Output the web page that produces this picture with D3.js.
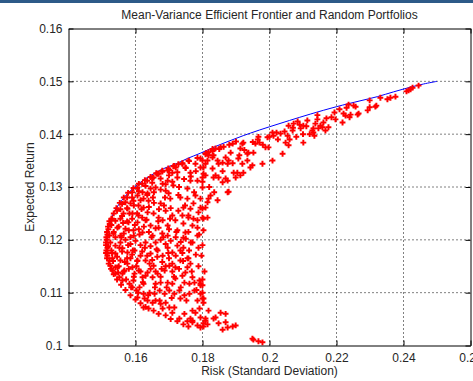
<!DOCTYPE html>
<html>
<head>
<meta charset="utf-8">
<script src="https://cdn.jsdelivr.net/npm/d3@7"></script>
<style>
  html, body { margin: 0; padding: 0; background: #fff; overflow: hidden; }
  text { font-family: "Liberation Sans", Arial, sans-serif; }
</style>
</head>
<body>
<svg id="chart" width="473" height="381"></svg>
<script>
// axis ticks
const xTicks = [0.16, 0.18, 0.2, 0.22, 0.24, 0.26];
const yTicks = [0.1, 0.11, 0.12, 0.13, 0.14, 0.15, 0.16];

// efficient frontier [risk, return]
const frontier = [
  [0.1514, 0.1185], [0.1518, 0.1215], [0.1528, 0.1242], [0.1543, 0.1260], [0.1558, 0.1274],
  [0.1577, 0.1288], [0.1596, 0.1299], [0.1621, 0.1312], [0.1646, 0.1322], [0.1671, 0.1331],
  [0.1696, 0.1338], [0.1725, 0.1345], [0.1755, 0.1354], [0.1794, 0.1364], [0.1840, 0.1377],
  [0.1900, 0.1392], [0.1943, 0.1402], [0.2000, 0.1414], [0.2060, 0.1426], [0.2122, 0.1438],
  [0.2200, 0.1452], [0.2270, 0.1463], [0.2322, 0.1471], [0.2370, 0.1480], [0.2421, 0.1489],
  [0.2460, 0.1495], [0.2500, 0.1500]
];

// random portfolios lying on the frontier's lower part
const frontierEdge = [
  [0.1512, 0.1190], [0.1514, 0.1200], [0.1516, 0.1210], [0.1519, 0.1220], [0.1523, 0.1230],
  [0.1528, 0.1240], [0.1535, 0.1250], [0.1543, 0.1260], [0.1553, 0.1270], [0.1565, 0.1280],
  [0.1578, 0.1289], [0.1594, 0.1298], [0.1610, 0.1306], [0.1628, 0.1313], [0.1645, 0.1319],
  [0.1662, 0.1326], [0.1680, 0.1331], [0.1698, 0.1335], [0.1715, 0.1340], [0.1513, 0.1180],
  [0.1516, 0.1170]
];

// random portfolios, upper arm (right part)
const upperRight = [
  [0.2445, 0.1492], [0.2427, 0.1488], [0.2415, 0.1483], [0.2409, 0.1481], [0.2421, 0.1485],
  [0.2376, 0.1471], [0.2361, 0.1469], [0.2352, 0.1466], [0.2331, 0.1469], [0.2319, 0.1454],
  [0.2316, 0.1452], [0.2299, 0.1464], [0.2299, 0.1451], [0.2293, 0.1445], [0.2266, 0.1439],
  [0.2263, 0.1437], [0.2257, 0.1452], [0.2251, 0.1454], [0.2236, 0.1456], [0.2230, 0.1450],
  [0.2221, 0.1439], [0.2242, 0.1437], [0.2227, 0.1435], [0.2239, 0.1432], [0.2218, 0.1422],
  [0.2209, 0.1447], [0.2194, 0.1441], [0.2197, 0.1428], [0.2185, 0.1432], [0.2170, 0.1430],
  [0.2176, 0.1413], [0.2161, 0.1422], [0.2158, 0.1413], [0.2152, 0.1416], [0.2143, 0.1436],
  [0.2143, 0.1428], [0.2137, 0.1420], [0.2131, 0.1411], [0.2131, 0.1403], [0.2134, 0.1397],
  [0.2128, 0.1407], [0.2167, 0.1407], [0.2146, 0.1411]
];

// random portfolios, upper arm (middle part)
const upperMid = [
  [0.2113, 0.1426], [0.2101, 0.1416], [0.2093, 0.1411], [0.2084, 0.1424], [0.2072, 0.1420],
  [0.2069, 0.1407], [0.2057, 0.1416], [0.2054, 0.1397], [0.2057, 0.1379], [0.2048, 0.1384],
  [0.2101, 0.1384], [0.2039, 0.1363], [0.2033, 0.1401], [0.2021, 0.1403], [0.2012, 0.1397],
  [0.2009, 0.1403], [0.1994, 0.1394], [0.1988, 0.1375], [0.1997, 0.1375], [0.2009, 0.1350],
  [0.1979, 0.1344], [0.1967, 0.1395], [0.1970, 0.1384], [0.1952, 0.1365], [0.1958, 0.1382],
  [0.1949, 0.1341], [0.1943, 0.1337], [0.1934, 0.1350], [0.1937, 0.1365], [0.1922, 0.1384],
  [0.1919, 0.1382], [0.1913, 0.1373], [0.1907, 0.1354], [0.1934, 0.1363], [0.1919, 0.1344],
  [0.1904, 0.1327], [0.1913, 0.1322], [0.1922, 0.1327], [0.1893, 0.1327], [0.1899, 0.1318],
  [0.1890, 0.1382], [0.1884, 0.1365], [0.1878, 0.1350], [0.1875, 0.1344], [0.1869, 0.1356],
  [0.1863, 0.1376], [0.1854, 0.1375], [0.1869, 0.1316], [0.1875, 0.1312], [0.1848, 0.1318],
  [0.1839, 0.1322], [0.1833, 0.1318], [0.1848, 0.1344], [0.1845, 0.1350], [0.1860, 0.1346],
  [0.1833, 0.1360], [0.1830, 0.1356], [0.1818, 0.1360], [0.1815, 0.1350], [0.1809, 0.1344],
  [0.1803, 0.1337], [0.1800, 0.1350], [0.1839, 0.1373], [0.1830, 0.1372], [0.1818, 0.1366],
  [0.1809, 0.1362], [0.1875, 0.1290], [0.1878, 0.1291], [0.1860, 0.1309], [0.1824, 0.1284],
  [0.1815, 0.1271], [0.1809, 0.1261], [0.1818, 0.1278], [0.1800, 0.1242], [0.1803, 0.1240],
  [0.1800, 0.1259], [0.1800, 0.1318], [0.1800, 0.1299], [0.1809, 0.1322],
  [0.1830, 0.1335], [0.1860, 0.1330], [0.1890, 0.1345], [0.1910, 0.1360], [0.1925, 0.1370],
  [0.1950, 0.1385], [0.1965, 0.1390], [0.1980, 0.1380], [0.2000, 0.1395], [0.2025, 0.1390],
  [0.2045, 0.1405], [0.2070, 0.1412], [0.2090, 0.1418], [0.2110, 0.1415], [0.2120, 0.1400],
  [0.2100, 0.1400], [0.2080, 0.1395], [0.2060, 0.1390]
];

// random portfolios, upper arm near the frontier (left part)
const upperLeft = [
  [0.1815, 0.1363], [0.1794, 0.1354], [0.1779, 0.1344], [0.1758, 0.1350], [0.1749, 0.1337],
  [0.1740, 0.1344], [0.1764, 0.1327], [0.1794, 0.1337], [0.1803, 0.1325], [0.1785, 0.1312],
  [0.1764, 0.1312], [0.1755, 0.1297], [0.1725, 0.1318], [0.1710, 0.1327], [0.1713, 0.1303],
  [0.1696, 0.1312], [0.1690, 0.1293], [0.1699, 0.1288], [0.1704, 0.1278], [0.1734, 0.1280],
  [0.1755, 0.1278], [0.1779, 0.1284], [0.1794, 0.1278], [0.1773, 0.1269], [0.1794, 0.1261],
  [0.1788, 0.1252], [0.1764, 0.1259], [0.1743, 0.1261], [0.1728, 0.1255], [0.1740, 0.1246],
  [0.1758, 0.1242], [0.1785, 0.1237], [0.1770, 0.1227], [0.1743, 0.1231], [0.1719, 0.1237],
  [0.1710, 0.1246], [0.1690, 0.1255], [0.1675, 0.1269], [0.1669, 0.1242], [0.1654, 0.1250],
  [0.1696, 0.1227], [0.1725, 0.1218], [0.1749, 0.1214], [0.1785, 0.1208], [0.1803, 0.1218],
  [0.1815, 0.1242], [0.1654, 0.1318], [0.1669, 0.1325], [0.1681, 0.1306], [0.1660, 0.1299],
  [0.1645, 0.1297], [0.1636, 0.1288], [0.1621, 0.1290], [0.1606, 0.1284], [0.1624, 0.1278],
  [0.1639, 0.1274], [0.1594, 0.1274], [0.1585, 0.1269], [0.1609, 0.1265], [0.1624, 0.1261],
  [0.1576, 0.1259], [0.1564, 0.1250], [0.1591, 0.1250], [0.1609, 0.1246], [0.1636, 0.1252],
  [0.1555, 0.1240], [0.1579, 0.1233], [0.1606, 0.1233], [0.1630, 0.1237], [0.1645, 0.1227],
  [0.1669, 0.1223], [0.1546, 0.1223], [0.1570, 0.1221], [0.1594, 0.1218], [0.1621, 0.1214],
  [0.1534, 0.1212], [0.1555, 0.1208], [0.1585, 0.1205], [0.1651, 0.1208], [0.1696, 0.1208],
  [0.1681, 0.1237], [0.1713, 0.1339], [0.1696, 0.1331], [0.1728, 0.1343],
  [0.1530, 0.1240], [0.1545, 0.1255], [0.1560, 0.1268], [0.1575, 0.1280], [0.1590, 0.1290],
  [0.1605, 0.1298], [0.1620, 0.1306], [0.1635, 0.1312], [0.1650, 0.1317], [0.1665, 0.1325],
  [0.1680, 0.1329], [0.1700, 0.1332], [0.1720, 0.1337], [0.1740, 0.1345], [0.1760, 0.1349],
  [0.1785, 0.1355], [0.1810, 0.1364], [0.1830, 0.1368], [0.1850, 0.1372], [0.1880, 0.1380],
  [0.1900, 0.1386], [0.1540, 0.1236], [0.1555, 0.1258], [0.1570, 0.1271], [0.1590, 0.1280],
  [0.1610, 0.1292], [0.1630, 0.1302], [0.1650, 0.1308], [0.1675, 0.1316], [0.1700, 0.1322],
  [0.1725, 0.1328], [0.1750, 0.1336]
];

// random portfolios, dense area round the minimum-variance point
const leftDense = [
  [0.1512, 0.1195], [0.1513, 0.1205], [0.1515, 0.1215], [0.1518, 0.1225], [0.1522, 0.1235],
  [0.1512, 0.1175], [0.1515, 0.1165], [0.1520, 0.1155], [0.1527, 0.1145], [0.1535, 0.1135],
  [0.1545, 0.1125], [0.1557, 0.1115], [0.1570, 0.1105], [0.1585, 0.1095], [0.1600, 0.1087],
  [0.1615, 0.1080], [0.1630, 0.1073],
  [0.1525, 0.1195], [0.1540, 0.1205], [0.1555, 0.1195], [0.1570, 0.1200], [0.1585, 0.1192],
  [0.1600, 0.1198], [0.1615, 0.1190], [0.1630, 0.1195], [0.1645, 0.1188], [0.1660, 0.1195],
  [0.1675, 0.1200], [0.1690, 0.1192], [0.1705, 0.1198], [0.1720, 0.1205], [0.1735, 0.1196],
  [0.1750, 0.1202], [0.1765, 0.1195], [0.1535, 0.1215], [0.1550, 0.1225], [0.1565, 0.1212],
  [0.1580, 0.1218], [0.1595, 0.1208], [0.1610, 0.1220], [0.1625, 0.1225], [0.1640, 0.1215],
  [0.1660, 0.1222], [0.1680, 0.1212], [0.1700, 0.1220], [0.1530, 0.1175], [0.1545, 0.1168],
  [0.1560, 0.1178], [0.1575, 0.1165], [0.1590, 0.1172], [0.1605, 0.1160], [0.1620, 0.1178],
  [0.1635, 0.1170], [0.1650, 0.1162], [0.1665, 0.1168], [0.1680, 0.1158], [0.1700, 0.1165],
  [0.1720, 0.1170], [0.1740, 0.1175], [0.1760, 0.1180], [0.1780, 0.1172], [0.1550, 0.1150],
  [0.1565, 0.1140], [0.1580, 0.1145], [0.1595, 0.1130], [0.1615, 0.1140], [0.1630, 0.1132],
  [0.1645, 0.1145], [0.1660, 0.1140], [0.1675, 0.1130], [0.1690, 0.1150], [0.1710, 0.1140],
  [0.1730, 0.1145], [0.1560, 0.1245], [0.1575, 0.1235], [0.1590, 0.1240], [0.1605, 0.1250],
  [0.1620, 0.1242], [0.1640, 0.1262], [0.1655, 0.1270], [0.1670, 0.1258], [0.1685, 0.1265],
  [0.1705, 0.1260], [0.1575, 0.1260], [0.1595, 0.1265], [0.1615, 0.1275], [0.1635, 0.1285],
  [0.1655, 0.1290], [0.1675, 0.1295], [0.1690, 0.1305], [0.1710, 0.1310], [0.1730, 0.1300],
  [0.1745, 0.1315], [0.1765, 0.1320], [0.1780, 0.1330], [0.1800, 0.1310], [0.1820, 0.1300],
  [0.1835, 0.1290], [0.1845, 0.1275],
  [0.1518, 0.1188], [0.1522, 0.1208], [0.1528, 0.1228], [0.1533, 0.1160], [0.1540, 0.1148],
  [0.1548, 0.1138], [0.1552, 0.1185], [0.1558, 0.1205], [0.1563, 0.1232], [0.1568, 0.1158],
  [0.1572, 0.1125], [0.1578, 0.1190], [0.1582, 0.1250], [0.1587, 0.1110], [0.1592, 0.1180],
  [0.1598, 0.1228], [0.1603, 0.1150], [0.1608, 0.1100], [0.1612, 0.1210], [0.1618, 0.1258],
  [0.1622, 0.1120], [0.1628, 0.1185], [0.1633, 0.1238], [0.1638, 0.1095], [0.1642, 0.1155],
  [0.1648, 0.1205], [0.1652, 0.1280], [0.1658, 0.1110], [0.1663, 0.1182], [0.1668, 0.1235],
  [0.1672, 0.1085], [0.1678, 0.1145], [0.1683, 0.1205], [0.1688, 0.1280], [0.1693, 0.1110],
  [0.1698, 0.1175], [0.1703, 0.1240], [0.1708, 0.1090], [0.1715, 0.1130], [0.1722, 0.1215],
  [0.1728, 0.1285], [0.1735, 0.1110], [0.1742, 0.1160], [0.1748, 0.1265], [0.1752, 0.1085],
  [0.1758, 0.1215], [0.1768, 0.1140], [0.1775, 0.1290], [0.1782, 0.1105], [0.1790, 0.1210],
  [0.1785, 0.1223], [0.1773, 0.1240], [0.1758, 0.1246], [0.1743, 0.1204], [0.1734, 0.1180],
  [0.1758, 0.1165], [0.1755, 0.1148], [0.1770, 0.1129], [0.1794, 0.1114],
  [0.1800, 0.1190], [0.1797, 0.1170], [0.1788, 0.1150], [0.1806, 0.1140], [0.1800, 0.1125],
  [0.1770, 0.1195], [0.1788, 0.1185]
];

// random portfolios, lower arm
const lowerArm = [
  [0.1803, 0.1042], [0.1809, 0.1047], [0.1794, 0.1053], [0.1779, 0.1062], [0.1770, 0.1066],
  [0.1791, 0.1070], [0.1764, 0.1051], [0.1755, 0.1046], [0.1770, 0.1044], [0.1746, 0.1060],
  [0.1731, 0.1051], [0.1716, 0.1072], [0.1710, 0.1062], [0.1701, 0.1072], [0.1690, 0.1081],
  [0.1681, 0.1070], [0.1675, 0.1079], [0.1660, 0.1085], [0.1651, 0.1081], [0.1636, 0.1085],
  [0.1627, 0.1089], [0.1734, 0.1089], [0.1746, 0.1095], [0.1761, 0.1098], [0.1776, 0.1104],
  [0.1794, 0.1098], [0.1800, 0.1089], [0.1785, 0.1085], [0.1731, 0.1104], [0.1716, 0.1098],
  [0.1701, 0.1104], [0.1687, 0.1098], [0.1672, 0.1104], [0.1657, 0.1098], [0.1642, 0.1100],
  [0.1624, 0.1098], [0.1603, 0.1104], [0.1612, 0.1110], [0.1591, 0.1110], [0.1582, 0.1117],
  [0.1561, 0.1123], [0.1552, 0.1129], [0.1540, 0.1136], [0.1531, 0.1142], [0.1525, 0.1151],
  [0.1522, 0.1161], [0.1516, 0.1174], [0.1516, 0.1185], [0.1660, 0.1117], [0.1675, 0.1119],
  [0.1696, 0.1119], [0.1710, 0.1117], [0.1719, 0.1127], [0.1746, 0.1119], [0.1761, 0.1117],
  [0.1776, 0.1119], [0.1791, 0.1123], [0.1794, 0.1117], [0.1740, 0.1132], [0.1749, 0.1138],
  [0.1764, 0.1155], [0.1755, 0.1165], [0.1734, 0.1161], [0.1719, 0.1148], [0.1710, 0.1155],
  [0.1701, 0.1151], [0.1687, 0.1142], [0.1666, 0.1136], [0.1651, 0.1129], [0.1636, 0.1138],
  [0.1621, 0.1129], [0.1610, 0.1142], [0.1597, 0.1136], [0.1591, 0.1148], [0.1576, 0.1155],
  [0.1567, 0.1142], [0.1555, 0.1161], [0.1546, 0.1148], [0.1540, 0.1174], [0.1531, 0.1165],
  [0.1528, 0.1180], [0.1540, 0.1189], [0.1561, 0.1184], [0.1576, 0.1176], [0.1597, 0.1180],
  [0.1615, 0.1170], [0.1630, 0.1161], [0.1645, 0.1174], [0.1666, 0.1180], [0.1681, 0.1170],
  [0.1696, 0.1185], [0.1710, 0.1176], [0.1725, 0.1189], [0.1743, 0.1185], [0.1606, 0.1161],
  [0.1585, 0.1165], [0.1654, 0.1151], [0.1561, 0.1136], [0.1594, 0.1123], [0.1624, 0.1117],
  [0.1606, 0.1091], [0.1624, 0.1072], [0.1639, 0.1070], [0.1654, 0.1066], [0.1669, 0.1060],
  [0.1690, 0.1057], [0.1705, 0.1050], [0.1725, 0.1046], [0.1743, 0.1040], [0.1758, 0.1036],
  [0.1770, 0.1047], [0.1785, 0.1038], [0.1794, 0.1034]
];

// random portfolios, lower arm tip
const lowerTip = [
  [0.1800, 0.1114], [0.1800, 0.1100], [0.1803, 0.1089], [0.1803, 0.1081], [0.1818, 0.1066],
  [0.1809, 0.1051], [0.1803, 0.1036], [0.1815, 0.1040], [0.1833, 0.1051], [0.1839, 0.1053],
  [0.1854, 0.1062], [0.1869, 0.1060], [0.1848, 0.1042], [0.1869, 0.1044], [0.1875, 0.1034],
  [0.1860, 0.1030], [0.1890, 0.1036], [0.1899, 0.1038], [0.1949, 0.1013], [0.1952, 0.1011],
  [0.1967, 0.1008], [0.1979, 0.1006]
];

const portfolios = [].concat(frontierEdge, upperRight, upperMid, upperLeft, leftDense, lowerArm, lowerTip);

const svg = d3.select('#chart');
const margin = { top: 28.5, right: 2.5, bottom: 35.5, left: 68.5 };
const width = 473;
const height = 381;

const x = d3.scaleLinear()
  .domain([0.14, 0.26])
  .range([margin.left, width - margin.right]);

const y = d3.scaleLinear()
  .domain([0.1, 0.16])
  .range([height - margin.bottom, margin.top]);

const fmt = v => String(+v.toFixed(2));

// window strip at the top
svg.append('rect')
  .attr('x', 0).attr('y', 0)
  .attr('width', width).attr('height', 3)
  .attr('fill', '#2d5a88');

// grid
svg.append('g')
  .selectAll('line')
  .data(xTicks.filter(d => d < 0.26))
  .enter()
  .append('line')
  .attr('x1', d => x(d)).attr('x2', d => x(d))
  .attr('y1', y(0.1)).attr('y2', y(0.16))
  .attr('stroke', '#000')
  .attr('stroke-width', 1)
  .attr('stroke-dasharray', '1,3');

svg.append('g')
  .selectAll('line')
  .data(yTicks.filter(d => d > 0.1 && d < 0.16))
  .enter()
  .append('line')
  .attr('x1', x(0.14)).attr('x2', x(0.26))
  .attr('y1', d => y(d)).attr('y2', d => y(d))
  .attr('stroke', '#000')
  .attr('stroke-width', 1)
  .attr('stroke-dasharray', '1,3');

// frontier
svg.append('path')
  .datum(frontier)
  .attr('fill', 'none')
  .attr('stroke', '#0000ff')
  .attr('stroke-width', 1)
  .attr('d', d3.line().x(d => x(d[0])).y(d => y(d[1])).curve(d3.curveCatmullRom));

// portfolios
svg.append('g')
  .selectAll('path')
  .data(portfolios)
  .enter()
  .append('path')
  .attr('transform', d => `translate(${x(d[0])},${y(d[1])})`)
  .attr('d', d3.symbol(d3.symbolCross, 19))
  .attr('fill', '#ff0000');

// axes with inward ticks
const styleAxis = g => {
  g.select('.domain').attr('stroke', '#000');
  g.selectAll('.tick line').attr('stroke', '#000');
  g.selectAll('.tick text')
    .attr('fill', '#262626')
    .style('font-family', '"Liberation Sans", Arial, sans-serif')
    .style('font-size', '12px');
};

svg.append('g')
  .attr('transform', `translate(0,${y(0.1)})`)
  .call(d3.axisBottom(x).tickValues(xTicks).tickFormat(fmt).tickSizeInner(-5).tickSizeOuter(0).tickPadding(8))
  .call(styleAxis);

svg.append('g')
  .attr('transform', `translate(${x(0.14)},0)`)
  .call(d3.axisLeft(y).tickValues(yTicks).tickFormat(fmt).tickSizeInner(-5).tickSizeOuter(0).tickPadding(6))
  .call(styleAxis);

svg.append('g')
  .attr('transform', `translate(0,${y(0.16)})`)
  .call(d3.axisTop(x).tickValues(xTicks).tickFormat('').tickSizeInner(-5).tickSizeOuter(0))
  .call(styleAxis);

svg.append('g')
  .attr('transform', `translate(${x(0.26)},0)`)
  .call(d3.axisRight(y).tickValues(yTicks).tickFormat('').tickSizeInner(-5).tickSizeOuter(0))
  .call(styleAxis);

// labels
svg.append('text')
  .attr('x', (x(0.14) + x(0.26)) / 2)
  .attr('y', 19)
  .attr('text-anchor', 'middle')
  .attr('font-size', 12)
  .attr('fill', '#262626')
  .text('Mean-Variance Efficient Frontier and Random Portfolios');

svg.append('text')
  .attr('x', (x(0.14) + x(0.26)) / 2)
  .attr('y', 375)
  .attr('text-anchor', 'middle')
  .attr('font-size', 12)
  .attr('fill', '#262626')
  .text('Risk (Standard Deviation)');

svg.append('text')
  .attr('transform', `translate(34,${(y(0.1) + y(0.16)) / 2}) rotate(-90)`)
  .attr('text-anchor', 'middle')
  .attr('font-size', 12)
  .attr('fill', '#262626')
  .text('Expected Return');
</script>
</body>
</html>
